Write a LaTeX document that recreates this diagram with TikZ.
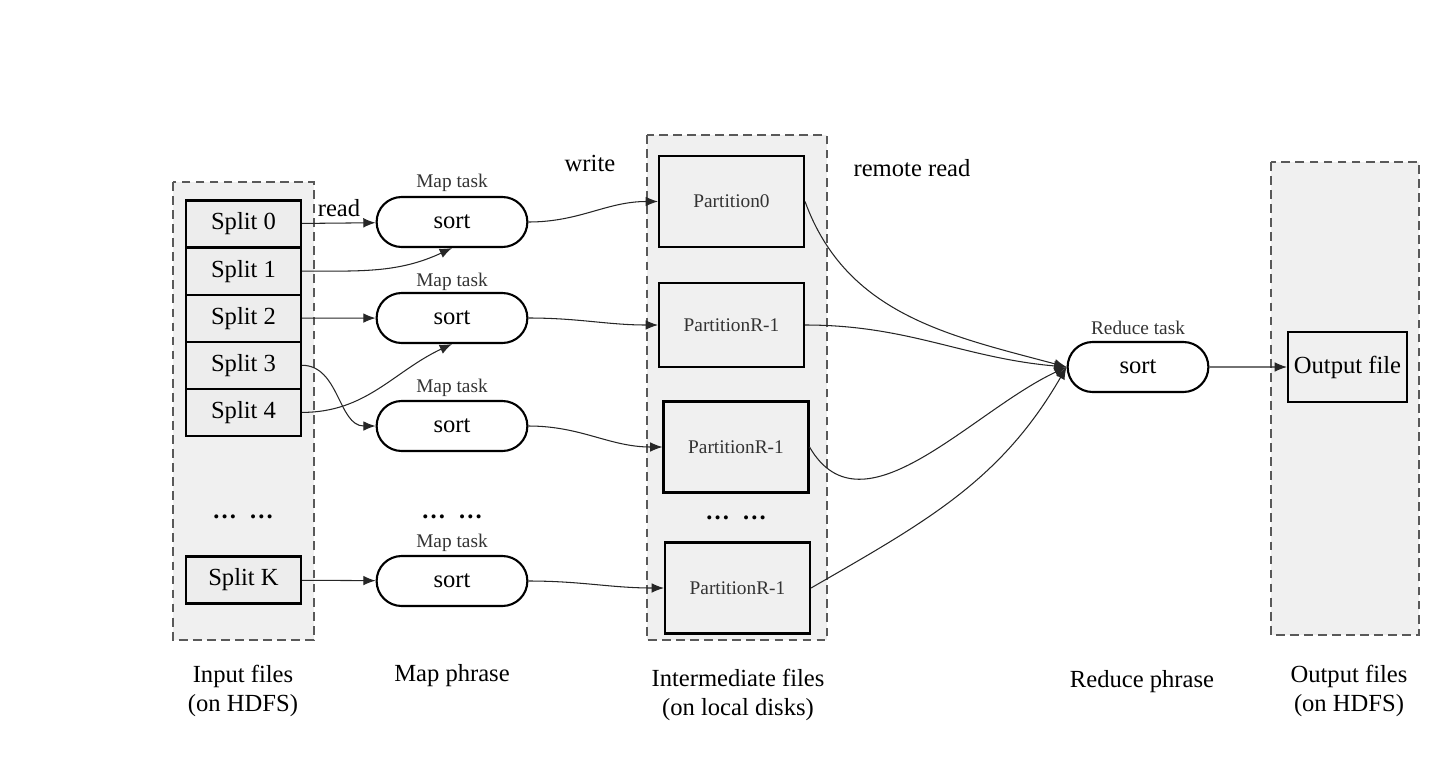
\documentclass[tikz,border=0pt]{standalone}
\usepackage{fontspec}
\setmainfont{Liberation Serif}
\usetikzlibrary{arrows,arrows.meta,positioning,shapes.misc}

\begin{document}
\begin{tikzpicture}[x=0.02cm,y=-0.02cm,->,>={Latex[length=7pt,width=5.5pt]},semithick,
    font=\fontsize{14}{17}\selectfont]
  \tikzstyle{region}=[-,draw=black!65,dash pattern=on 5pt off 3pt,thick,fill=black!6]
  \tikzstyle{split}=[draw,very thick,fill=black!7,minimum width=2.3cm,minimum height=0.94cm,inner sep=0pt]
  \tikzstyle{task}=[rounded rectangle,draw,very thick,fill=white,minimum width=3.25cm,minimum height=1cm]
  \tikzstyle{part}=[draw,very thick,fill=black!6,minimum width=2.9cm,minimum height=1.82cm,
    text=black!80,font=\fontsize{11}{13}\selectfont]
  \tikzstyle{small}=[text=black!80,font=\fontsize{11}{13}\selectfont]
  \tikzstyle{every edge}=[draw,black!85]

  \useasboundingbox (0,0) rectangle (1448,768);

  % dashed areas
  \path[region] (173,182) rectangle (314,640);
  \path[region] (647,135) rectangle (827,640);
  \path[region] (1271,162) rectangle (1419,635);

  % input splits
  \node[split] (s0) at (243.5,224) {Split 0};
  \node[split] (s1) [below=-0.04cm of s0] {Split 1};
  \node[split] (s2) [below=-0.04cm of s1] {Split 2};
  \node[split] (s3) [below=-0.04cm of s2] {Split 3};
  \node[split] (s4) [below=-0.04cm of s3] {Split 4};
  \node        (sd) at (243,517) {\textbf{\dots}\ \ \textbf{\dots}};
  \node[split] (sK) at (243.5,580) {Split K};

  % map tasks
  \node[task] (m1) at (452,222) {sort};
  \node[task] (m2) at (452,318) {sort};
  \node[task] (m3) at (452,426) {sort};
  \node[task] (m4) at (452,581) {sort};
  \node[small] (t1) [above=-1pt of m1] {Map task};
  \node[small] (t2) [above=-3pt of m2] {Map task};
  \node[small] (t3) [above=-2pt of m3] {Map task};
  \node[small] (t4) [above=-2pt of m4] {Map task};
  \node        (md) at (452,517) {\textbf{\dots}\ \ \textbf{\dots}};

  % partitions
  \node[part] (p0) at (731.5,201.5) {Partition0};
  \node[part,minimum height=1.68cm] (p1) at (731.5,325) {PartitionR-1};
  \node[part] (p2) at (736,447) {PartitionR-1};
  \node[part] (p3) at (737.5,588) {PartitionR-1};
  \node        (pd) at (736,518) {\textbf{\dots}\ \ \textbf{\dots}};

  % reduce and output
  \node[task,minimum width=3.05cm] (r) at (1138,367) {sort};
  \node[small] (rt) [above=0pt of r] {Reduce task};
  \node[draw,very thick,fill=black!6,minimum width=2.38cm,minimum height=1.4cm,inner sep=1pt] (out) at (1347.5,367) {Output file};

  % texts
  \node (rd) at (339,208) {read};
  \node (wr) at (590,163) {write};
  \node (rr) at (912,168) {remote read};
  \node[align=center] (l1) at (243,691) {Input files\\(on HDFS)};
  \node (l2) at (452,676) {Map phrase};
  \node[align=center] (l3) at (738,695) {Intermediate files\\(on local disks)};
  \node (l4) at (1142,682) {Reduce phrase};
  \node[align=center] (l5) at (1349,691) {Output files\\(on HDFS)};

  \path
  (s0) edge (m1)
  (s1.east) edge [out=0,in=205] (m1.south)
  (s2) edge (m2)
  (s3.east) edge [out=0,in=180] (m3.west)
  (s4.east) edge [out=0,in=205] (m2.south)
  (sK) edge (m4)
  (m1.east) edge [out=0,in=180] (p0.west)
  (m2.east) edge [out=0,in=180] (p1.west)
  (m3.east) edge [out=0,in=180] (p2.west)
  (m4.east) edge [out=0,in=180] (p3.west)
  (p0.east) edge [out=-70,in=165] (r.west)
  (p1.east) edge [out=0,in=175] (r.west)
  (p2.east) edge [out=-60,in=205] (r.west)
  (p3.east) edge [out=30,in=240] (r.west)
  (r) edge (out);
\end{tikzpicture}
\end{document}
